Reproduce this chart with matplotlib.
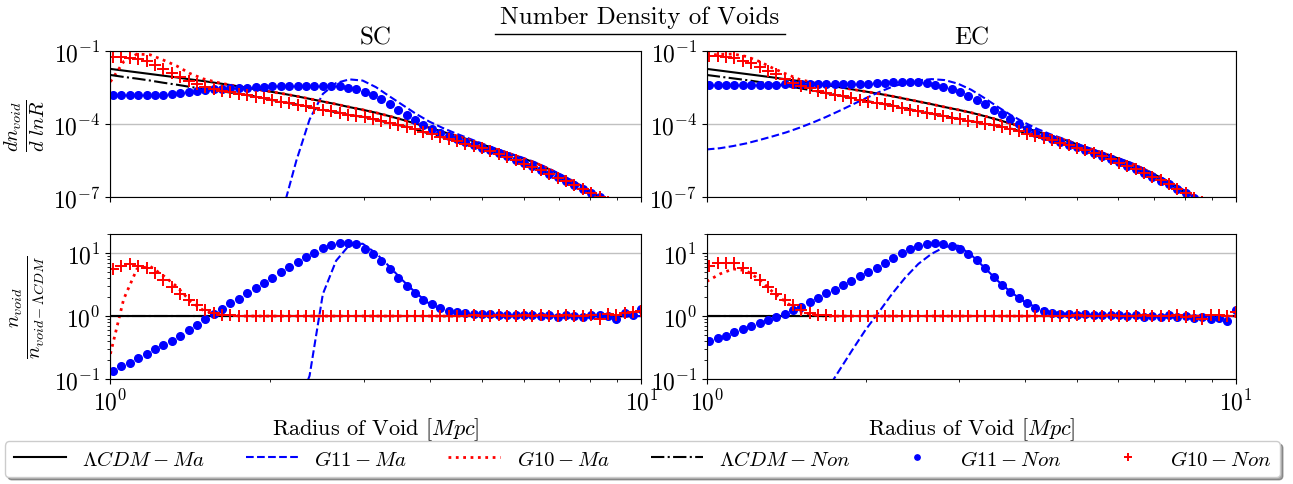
import numpy as np
import matplotlib
matplotlib.use('Agg')
import matplotlib.pyplot as plt
from matplotlib.lines import Line2D
from matplotlib.ticker import LogLocator, NullLocator, NullFormatter, FixedLocator

plt.rcParams['font.family'] = 'serif'
plt.rcParams['font.serif'] = ['cmr10', 'DejaVu Serif']
plt.rcParams['mathtext.fontset'] = 'cm'
plt.rcParams['axes.formatter.use_mathtext'] = True

nan = np.nan

# radius grids [Mpc]
radius = np.logspace(0.005, 1.0, 64)      # simulation points (markers)
radius_line = np.logspace(0.0, 1.0, 41)   # analytic curves

# ---------- log10(dn/dlnR), top panels ----------
lcdm_ma = [-1.72, -1.79, -1.86, -1.93, -2.00, -2.07, -2.15, -2.22, -2.30, -2.38,
           -2.47, -2.56, -2.65, -2.74, -2.84, -2.95, -3.06, -3.17, -3.29, -3.40,
           -3.52, -3.66, -3.81, -3.97, -4.13, -4.30, -4.46, -4.63, -4.82, -5.01,
           -5.19, -5.38, -5.58, -5.83, -6.10, -6.39, -6.70, -7.02, -7.36, -7.72, -8.10]

# SC
g11_ma_sc = [nan]*13 + [-7.5, -5.5, -3.8, -2.75, -2.30, -2.15, -2.20, -2.47, -2.84, -3.20,
                        -3.56, -3.88, -4.14, -4.37, -4.58, -4.79, -4.99, -5.18, -5.36, -5.56,
                        -5.81, -6.08, -6.37, -6.68, -7.00, -7.34, -7.70, -8.08]
g10_ma_sc = [-2.25, -1.42, -1.11, -1.14, -1.36, -1.60, -1.91, -2.13, -2.27, -2.38,
             -2.47, -2.56, -2.65, -2.74, -2.84, -2.95, -3.06, -3.17, -3.29, -3.40,
             -3.52, -3.66, -3.81, -3.97, -4.13, -4.30, -4.46, -4.63, -4.82, -5.01,
             -5.19, -5.38, -5.58, -5.83, -6.10, -6.39, -6.70, -7.02, -7.36, -7.72, -8.10]
lcdm_non_sc = [-1.97, -2.05, -2.12, -2.20, -2.29, -2.37, -2.46, -2.54, -2.61, -2.69,
               -2.77, -2.86, -2.98, -3.08, -3.18, -3.29, -3.40, -3.50, -3.61, -3.69,
               -3.80, -3.95, -4.06, -4.21, -4.38, -4.53, -4.66, -4.83, -4.99, -5.17,
               -5.35, -5.57, -5.78, -6.02, -6.26, -6.50, -6.76, -7.05, -7.35, -7.65, -7.95]
g11_non_sc = [-2.81, -2.81, -2.81, -2.80, -2.80, -2.79, -2.78, -2.75, -2.71, -2.67,
              -2.62, -2.58, -2.55, -2.53, -2.51, -2.50, -2.49, -2.47, -2.46, -2.44,
              -2.43, -2.42, -2.41, -2.41, -2.41, -2.41, -2.42, -2.44, -2.49, -2.56,
              -2.65, -2.81, -2.97, -3.18, -3.40, -3.63, -3.83, -4.04, -4.20, -4.37,
              -4.49, -4.62, -4.74, -4.84, -4.96, -5.07, -5.19, -5.31, -5.45, -5.59,
              -5.72, -5.86, -6.02, -6.17, -6.31, -6.48, -6.66, -6.82, -6.99, -7.19,
              -7.41, -7.58, -7.80, -7.92]
g10_non_sc = [-1.22, -1.25, -1.28, -1.33, -1.41, -1.55, -1.73, -1.90, -2.07, -2.21,
              -2.34, -2.45, -2.54, -2.61, -2.68, -2.74, -2.80, -2.87, -2.93, -3.00,
              -3.06, -3.13, -3.19, -3.26, -3.33, -3.40, -3.47, -3.54, -3.60, -3.66,
              -3.71, -3.77, -3.86, -3.94, -4.02, -4.11, -4.20, -4.31, -4.41, -4.50,
              -4.59, -4.68, -4.79, -4.88, -4.99, -5.10, -5.22, -5.33, -5.47, -5.61,
              -5.74, -5.88, -6.04, -6.19, -6.33, -6.49, -6.67, -6.83, -7.00, -7.20,
              -7.40, -7.60, -7.80, -8.00]

# EC
g11_ma_ec = [-5.03, -4.98, -4.89, -4.78, -4.64, -4.49, -4.33, -4.14, -3.93, -3.70,
             -3.45, -3.19, -2.93, -2.68, -2.46, -2.29, -2.19, -2.14, -2.18, -2.33,
             -2.58, -2.92, -3.28, -3.62, -3.92, -4.19, -4.41, -4.60, -4.80, -4.99,
             -5.17, -5.37, -5.56, -5.81, -6.08, -6.37, -6.68, -7.00, -7.34, -7.70, -8.08]
g10_ma_ec = [-1.17, -1.12, -1.11, -1.21, -1.42, -1.69, -1.93, -2.15, -2.28, -2.38,
             -2.47, -2.56, -2.65, -2.74, -2.84, -2.95, -3.06, -3.17, -3.29, -3.40,
             -3.52, -3.66, -3.81, -3.97, -4.13, -4.30, -4.46, -4.63, -4.82, -5.01,
             -5.19, -5.38, -5.58, -5.83, -6.10, -6.39, -6.70, -7.02, -7.36, -7.72, -8.10]
lcdm_non_ec = [-1.97, -2.04, -2.11, -2.18, -2.26, -2.34, -2.42, -2.51, -2.61, -2.71,
               -2.81, -2.92, -3.03, -3.13, -3.22, -3.34, -3.45, -3.56, -3.67, -3.77,
               -3.87, -3.97, -4.06, -4.17, -4.34, -4.51, -4.64, -4.81, -4.96, -5.14,
               -5.32, -5.52, -5.73, -5.97, -6.22, -6.48, -6.76, -7.04, -7.34, -7.64, -7.94]
g11_non_ec = [-2.37, -2.37, -2.37, -2.37, -2.37, -2.37, -2.37, -2.37, -2.37, -2.36,
              -2.36, -2.36, -2.36, -2.36, -2.36, -2.36, -2.36, -2.35, -2.35, -2.34,
              -2.32, -2.29, -2.26, -2.24, -2.24, -2.26, -2.31, -2.38, -2.46, -2.56,
              -2.68, -2.82, -2.99, -3.18, -3.39, -3.59, -3.79, -3.99, -4.17, -4.35,
              -4.49, -4.61, -4.72, -4.83, -4.94, -5.04, -5.17, -5.29, -5.41, -5.56,
              -5.71, -5.84, -6.01, -6.15, -6.32, -6.46, -6.66, -6.83, -7.04, -7.22,
              -7.44, -7.63, -7.88, -7.90]
g10_non_ec = [-1.18, -1.18, -1.22, -1.29, -1.38, -1.48, -1.63, -1.80, -1.95, -2.12,
              -2.28, -2.42, -2.52, -2.62, -2.71, -2.78, -2.85, -2.92, -2.99, -3.06,
              -3.12, -3.18, -3.25, -3.32, -3.39, -3.45, -3.52, -3.59, -3.66, -3.72,
              -3.79, -3.85, -3.91, -3.97, -4.03, -4.10, -4.18, -4.28, -4.38, -4.49,
              -4.57, -4.66, -4.76, -4.86, -4.96, -5.07, -5.19, -5.30, -5.43, -5.57,
              -5.71, -5.85, -6.00, -6.15, -6.30, -6.47, -6.65, -6.83, -7.01, -7.20,
              -7.40, -7.60, -7.80, -8.00]

# ---------- log10(n / n_LCDM), bottom panels ----------
lcdm_ratio = [0.0]*41

r_g11_ma_sc = [nan]*14 + [-1.5, -0.95, 0.35, 0.88, 1.13, 1.15, 1.00, 0.79, 0.57, 0.37,
                          0.20, 0.10, 0.05, 0.02, 0.01] + [0.0]*12
r_g10_ma_sc = [-0.60, 0.27, 0.75, 0.79, 0.64, 0.47, 0.24, 0.09, 0.03, 0.01] + [0.0]*31
r_g11_non_sc = [-0.87, -0.80, -0.74, -0.67, -0.60, -0.52, -0.46, -0.39, -0.31, -0.22,
                -0.14, -0.05, 0.03, 0.11, 0.20, 0.27, 0.36, 0.44, 0.53, 0.61,
                0.70, 0.78, 0.86, 0.94, 1.01, 1.08, 1.13, 1.16, 1.16, 1.14,
                1.07, 0.98, 0.88, 0.75, 0.61, 0.48, 0.36, 0.26, 0.19, 0.13,
                0.08, 0.06, 0.05, 0.04, 0.03, 0.03, 0.02, 0.02, 0.01, 0.02,
                0.01, 0.00, 0.01, -0.01, 0.01, 0.00, -0.02, 0.01, 0.01, 0.00,
                -0.04, 0.05, 0.02, 0.12]
r_g10_non_sc = [0.75, 0.80, 0.82, 0.80, 0.76, 0.68, 0.58, 0.47, 0.35, 0.25,
                0.17, 0.10, 0.05, 0.02, 0.01, 0.00, 0.00, 0.00, 0.00, 0.00,
                0.00, 0.00, 0.00, 0.00, 0.00, 0.00, 0.00, 0.00, 0.00, 0.00,
                0.00, 0.00, 0.00, 0.00, 0.00, 0.00, 0.00, 0.00, 0.00, 0.00,
                0.00, 0.00, 0.00, 0.01, 0.00, 0.00, 0.01, 0.00, 0.00, 0.01,
                0.00, 0.01, 0.00, 0.00, 0.01, 0.00, 0.00, 0.01, -0.05, 0.03,
                0.02, 0.05, 0.06, 0.08]

r_g11_ma_ec = [-3.3, -3.1, -2.9, -2.7, -2.5, -2.3, -2.05, -1.75, -1.5, -1.2,
               -0.87, -0.54, -0.22, 0.06, 0.35, 0.61, 0.83, 0.99, 1.10, 1.12,
               0.97, 0.77, 0.56, 0.38, 0.23, 0.13, 0.07, 0.04, 0.03, 0.02,
               0.02, 0.01] + [0.0]*9
r_g10_ma_ec = [0.55, 0.67, 0.75, 0.72, 0.58, 0.38, 0.22, 0.07, 0.02] + [0.0]*32
r_g11_non_ec = [-0.39, -0.35, -0.31, -0.26, -0.21, -0.16, -0.11, -0.06, -0.01, 0.04,
                0.09, 0.15, 0.22, 0.29, 0.36, 0.42, 0.49, 0.56, 0.63, 0.70,
                0.77, 0.85, 0.93, 1.01, 1.07, 1.12, 1.15, 1.16, 1.15, 1.12,
                1.07, 0.99, 0.89, 0.76, 0.62, 0.49, 0.38, 0.28, 0.20, 0.13,
                0.08, 0.05, 0.04, 0.03, 0.02, 0.03, 0.02, 0.01, 0.02, 0.01,
                0.00, 0.01, -0.01, 0.00, -0.02, 0.01, -0.01, 0.00, -0.03, -0.02,
                -0.04, -0.03, -0.08, 0.10]
r_g10_non_ec = [0.80, 0.84, 0.85, 0.84, 0.77, 0.68, 0.58, 0.46, 0.35, 0.26,
                0.17, 0.10, 0.05, 0.02, 0.01, 0.00, 0.00, 0.00, 0.00, 0.00,
                0.00, 0.00, 0.00, 0.00, 0.00, 0.00, 0.00, 0.00, 0.00, 0.00,
                0.00, 0.00, 0.00, 0.00, 0.00, 0.00, 0.00, 0.00, 0.00, 0.00,
                0.00, 0.00, 0.00, 0.00, 0.01, 0.00, 0.00, 0.00, 0.01, 0.00,
                0.00, 0.00, 0.01, 0.00, 0.00, 0.00, 0.01, -0.02, 0.00, -0.04,
                0.01, 0.02, 0.00, 0.06]

labels = [r'$\Lambda CDM-Ma$', r'$G11-Ma$', r'$G10-Ma$',
          r'$\Lambda CDM-Non$', r'$G11-Non$', r'$G10-Non$']


def draw(ax, lcdm, g11ma, g10ma, lcdmnon, g11non, g10non):
    p = lambda v: 10**np.array(v, dtype=float)
    ax.plot(radius_line, p(lcdm), color='black', lw=1.5, label=labels[0])
    ax.plot(radius_line, p(g11ma), color='blue', ls='--', lw=1.5, label=labels[1])
    ax.plot(radius_line, p(g10ma), color='red', ls=':', lw=2, label=labels[2])
    ax.plot(radius_line, p(lcdmnon), color='black', ls='-.', lw=1.5, label=labels[3])
    ax.plot(radius, p(g11non), 'o', color='blue', ms=5.5, label=labels[4])
    ax.plot(radius, p(g10non), '+', color='red', ms=8.5, mew=1.4, label=labels[5])


def style(ax, top):
    ax.set_xscale('log')
    ax.set_yscale('log')
    ax.set_xlim(1, 10)
    ax.grid(True, which='major', color='#c0c0c0', lw=1)
    ax.tick_params(axis='both', which='major', labelsize=17)
    if top:
        ax.set_ylim(1e-7, 1e-1)
        ax.yaxis.set_major_locator(FixedLocator([1e-7, 1e-4, 1e-1]))
        ax.yaxis.set_minor_locator(NullLocator())
        ax.tick_params(axis='x', which='both', labelbottom=False)
    else:
        ax.set_ylim(0.1, 20)
        ax.yaxis.set_major_locator(FixedLocator([0.1, 1, 10]))
        ax.yaxis.set_minor_locator(LogLocator(subs=np.arange(2, 10)))
        ax.yaxis.set_minor_formatter(NullFormatter())
        ax.set_xlabel(r'Radius of Void [$Mpc$]', fontsize=16, labelpad=1)
    ax.xaxis.set_major_locator(FixedLocator([1, 10]))
    ax.xaxis.set_minor_locator(LogLocator(subs=np.arange(2, 10)))
    ax.xaxis.set_minor_formatter(NullFormatter())


fig = plt.figure(figsize=(12.93, 4.85), dpi=100)

ax_sc = fig.add_axes([0.0854, 0.591, 0.4107, 0.301])
ax_ec = fig.add_axes([0.5466, 0.591, 0.4092, 0.301])
axr_sc = fig.add_axes([0.0854, 0.2165, 0.4107, 0.2985])
axr_ec = fig.add_axes([0.5466, 0.2165, 0.4092, 0.2985])

draw(ax_sc, lcdm_ma, g11_ma_sc, g10_ma_sc, lcdm_non_sc, g11_non_sc, g10_non_sc)
draw(ax_ec, lcdm_ma, g11_ma_ec, g10_ma_ec, lcdm_non_ec, g11_non_ec, g10_non_ec)
draw(axr_sc, lcdm_ratio, r_g11_ma_sc, r_g10_ma_sc, lcdm_ratio, r_g11_non_sc, r_g10_non_sc)
draw(axr_ec, lcdm_ratio, r_g11_ma_ec, r_g10_ma_ec, lcdm_ratio, r_g11_non_ec, r_g10_non_ec)

for a in (ax_sc, ax_ec):
    style(a, True)
for a in (axr_sc, axr_ec):
    style(a, False)

ax_sc.set_title('SC', fontsize=18)
ax_ec.set_title('EC', fontsize=18)

ax_sc.set_ylabel(r'$\frac{dn_{void}}{d\ lnR}$', fontsize=21)
axr_sc.set_ylabel(r'$\frac{n_{void}}{n_{void-\Lambda CDM}}$', fontsize=21)
ax_sc.yaxis.set_label_coords(-0.122, 0.5)
axr_sc.yaxis.set_label_coords(-0.122, 0.5)

# underlined main title
fig.text(0.495, 0.963, 'Number Density of Voids', fontsize=18, ha='center', va='center')
fig.add_artist(Line2D([0.383, 0.607], [0.928, 0.928], transform=fig.transFigure,
                      color='black', lw=1))

handles, labs = ax_sc.get_legend_handles_labels()
fig.legend(handles, labs, loc='lower left', bbox_to_anchor=(0.004, 0.0144, 0.986, 0.076),
           mode='expand', ncol=6, fontsize=15, fancybox=True, shadow=True,
           borderaxespad=0, handlelength=2.5, numpoints=1, markerscale=0.7)

plt.savefig('out.png', dpi=100)
